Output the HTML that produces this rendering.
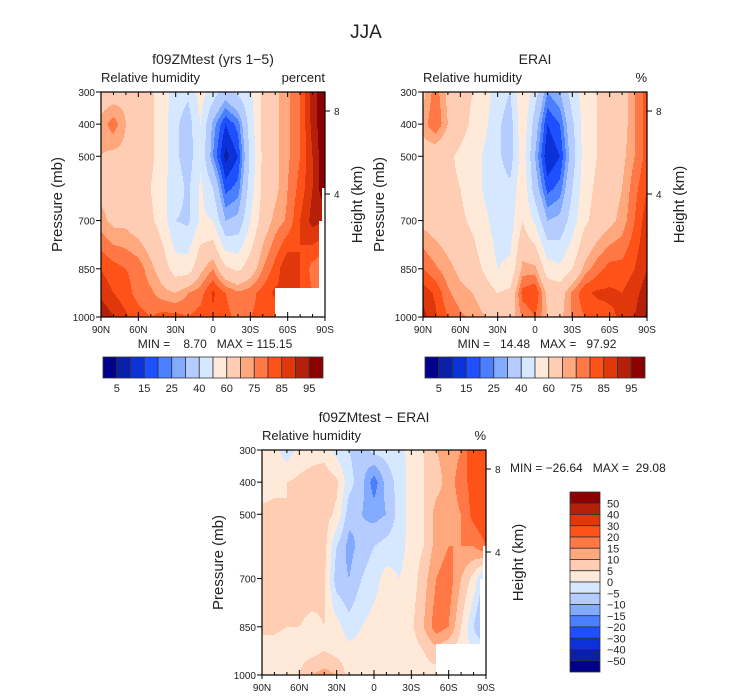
<!DOCTYPE html>
<html><head><meta charset="utf-8">
<style>
body{margin:0;background:#fff;}
svg{display:block;font-family:"Liberation Sans",sans-serif;}
text{fill:#222;}
</style></head>
<body>
<svg id="svg" width="733" height="699" xmlns="http://www.w3.org/2000/svg">
<text x="366" y="38" font-size="19" text-anchor="middle">JJA</text>
</svg>
<script>
// ---- data ----
const lats = [90,80,70,60,50,40,30,20,10,0,-10,-20,-30,-40,-50,-60,-70,-80,-90];
const levels = [300,400,500,600,700,850,925,1000];
const rhModel = [
 [65,65,68,65,62,55,45,42,55,45,35,42,48,62,68,74,80,92,100],
 [72,78,70,66,62,55,42,35,50,28,15,22,45,62,68,74,80,92,100],
 [70,68,68,66,62,55,42,35,48,25,8,15,42,62,68,74,80,90,100],
 [68,66,66,64,60,52,45,38,52,40,18,22,45,62,68,75,82,90,100],
 [72,68,68,65,62,55,40,38,52,50,30,32,50,65,72,76,85,92,90],
 [85,82,80,78,72,65,55,55,68,75,62,58,65,75,82,90,85,78,75],
 [88,85,82,78,76,72,70,75,78,86,80,76,78,82,86,85,85,80,80],
 [95,90,86,82,80,82,82,80,82,84,82,78,80,82,82,80,80,80,80]
];
const rhObs = [
 [68,78,68,64,60,55,45,40,60,45,25,30,45,55,60,62,66,75,82],
 [72,80,70,64,58,52,42,35,58,35,15,20,38,55,60,64,66,75,82],
 [66,64,62,58,55,48,42,35,56,30,10,15,35,55,60,64,68,75,82],
 [66,64,62,60,55,48,45,42,58,35,18,22,40,56,62,66,70,78,85],
 [68,66,64,62,58,52,45,45,60,48,30,32,45,58,64,68,72,80,88],
 [80,76,72,68,65,58,50,52,72,72,55,52,60,72,78,82,82,85,90],
 [88,84,76,72,70,65,60,62,82,85,68,66,76,84,86,86,85,88,93],
 [92,86,80,76,74,70,65,66,76,80,70,68,76,80,82,84,86,90,96]
];
const rhDiff = [
 [2,2,-3,2,3,3,-2,-5,-8,-3,-3,-2,2,5,10,12,15,25,25],
 [3,4,5,6,7,8,6,-3,-8,-18,-8,-3,2,5,8,12,18,22,25],
 [6,6,5,7,7,7,4,-8,-10,-12,-10,-3,2,5,12,12,15,22,25],
 [6,6,5,7,7,7,-5,-12,-8,-5,-3,-2,2,5,12,15,15,15,20],
 [6,6,5,7,7,6,-8,-10,-5,-2,2,0,2,8,15,18,10,3,-8],
 [6,6,5,5,4,5,2,-3,0,2,3,3,4,10,18,15,5,-5,-15],
 [3,3,2,3,3,5,3,2,2,2,3,3,2,5,8,5,2,0,0],
 [2,3,3,5,10,12,10,3,2,3,3,5,3,3,3,3,0,0,0]
];
const rhLevels = [5,10,15,20,25,30,40,50,60,70,75,80,85,90,95];
const rhLabels = ["5","15","25","40","60","75","85","95"];
const diffLevels = [-50,-40,-30,-20,-15,-10,-5,0,5,10,15,20,30,40,50];
const diffLabels = ["50","40","30","20","15","10","5","0","\u22125","\u221210","\u221215","\u221220","\u221230","\u221240","\u221250"];
const xTickLabels = ["90N","60N","30N","0","30S","60S","90S"];
const xTickLats = [90,60,30,0,-30,-60,-90];
const yTickLabels = ["300","400","500","700","850","1000"];
const yTickP = [300,400,500,700,850,1000];
const colors = ['#00008b','#0a20a8','#0a32d8','#1e50ff','#4a7fff','#82aaff','#b4ccff','#d6e8ff','#ffe9d8','#ffcdb4','#ffa87e','#ff7845','#ff5218','#e0380a','#b5200a','#8b0000'];
// ---- render ----
const NS="http://www.w3.org/2000/svg";
const svg=document.getElementById('svg');
function mk(tag,attrs,parent){const e=document.createElementNS(NS,tag);for(const k in attrs)e.setAttribute(k,attrs[k]);(parent||svg).appendChild(e);return e;}
function txt(s,x,y,size,anchor,parent){const t=mk('text',{x:x,y:y,'font-size':size,'text-anchor':anchor||'start'},parent);t.textContent=s;return t;}
function sample(grid,lat,p){
  const step=(lats[0]-lats[lats.length-1])/(lats.length-1);
  let fi=(lats[0]-lat)/step; let i0=Math.min(lats.length-2,Math.floor(fi)); let fx=fi-i0;
  let j0=0; while(j0<levels.length-2 && p>levels[j0+1]) j0++;
  let fy=(p-levels[j0])/(levels[j0+1]-levels[j0]); fy=Math.max(0,Math.min(1,fy));
  const a=grid[j0][i0],b=grid[j0][i0+1],c=grid[j0+1][i0],d=grid[j0+1][i0+1];
  return (a*(1-fx)+b*fx)*(1-fy)+(c*(1-fx)+d*fx)*fy;
}
function bin(v,lv){let k=0;while(k<lv.length&&v>=lv[k])k++;return k;}
function masked(lat,p,maskP){ if(!maskP) return false; return (lat<-50&&p>maskP)||(lat<-85&&p>700)||(lat<-87.5&&p>600); }
function panel(opt){
  const g=mk('g',{},svg);
  
  
  const X=opt.x,Y=opt.y,W=224,H=225;
  const xs=lat=>X+(90-lat)/180*W;
  const ys=p=>Y+(p-300)/700*H;
  const cg=mk('g',{'shape-rendering':'crispEdges'},g);
  
  
  for(let r=0;r<H;r++){
    const p=300+(r+0.5)/H*700;
    let start=0,cur=null;
    for(let c=0;c<=W;c++){
      let col=null;
      if(c<W){const lat=90-(c+0.5)/W*180;
        col=masked(lat,p,opt.maskP)?'#fff':colors[bin(sample(opt.grid,lat,p),opt.lv)];}
      if(col!==cur){
        if(cur!==null){const rc=mk('rect',{x:X+start,y:Y+r,width:c-start,height:1,fill:cur},cg);
          
          }
        cur=col;start=c;}
    }
  }
  const fr=mk('rect',{x:X,y:Y,width:W,height:H,fill:'none',stroke:'#000','stroke-width':1.2},g);
  
  
  for(let lat=90;lat>=-90;lat-=10){
    const major=lat%30===0; const x=xs(lat); const L=major?5:3;
    mk('line',{x1:x,y1:Y+H,x2:x,y2:Y+H-L,stroke:'#000'},g);
    mk('line',{x1:x,y1:Y,x2:x,y2:Y+L,stroke:'#000'},g);
    if(major){mk('line',{x1:x,y1:Y+H,x2:x,y2:Y+H+4,stroke:'#000'},g);}
  }
  xTickLabels.forEach((s,i)=>{const t=txt(s,xs(xTickLats[i]),Y+H+16,10,'middle',g);
    
    });
  yTickP.forEach((p,i)=>{mk('line',{x1:X-5,y1:ys(p),x2:X,y2:ys(p),stroke:'#000'},g);
    const t=txt(yTickLabels[i],X-6,ys(p)+4,10,'end',g);
    
    });
  [[8,19],[4,102]].forEach(([km,dy])=>{mk('line',{x1:X+W,y1:Y+dy,x2:X+W+5,y2:Y+dy,stroke:'#000'},g);
    const t=txt(String(km),X+W+9,Y+dy+4,10,'start',g);
    
    });
  let t=txt('Pressure (mb)',0,0,15,'middle',g);t.setAttribute('transform',`translate(${X-39},${Y+H/2}) rotate(-90)`);t.setAttribute('fill','#444');
  
  
  t=txt('Height (km)',0,0,15,'middle',g);t.setAttribute('transform',`translate(${X+W+37},${Y+H/2}) rotate(-90)`);
  
  
  t=txt(opt.title,X+W/2,Y-28,14,'middle',g);
  
  
  t=txt('Relative humidity',X,Y-10,13,'start',g);
  
  
  t=txt(opt.units,X+W,Y-10,13,'end',g);
  
  
  t=txt(opt.minmax,opt.mmx,opt.mmy,12,opt.mma,g);t.setAttribute('xml:space','preserve');t.style.whiteSpace='pre';
  
  
}
panel({name:'panel-model',x:101,y:92,grid:rhModel,lv:rhLevels,maskP:910,title:'f09ZMtest (yrs 1\u22125)',units:'percent',minmax:'MIN =    8.70   MAX = 115.15',mmx:215,mmy:348,mma:'middle'});
panel({name:'panel-erai',x:423,y:92,grid:rhObs,lv:rhLevels,maskP:null,title:'ERAI',units:'%',minmax:'MIN =   14.48   MAX =   97.92',mmx:537,mmy:348,mma:'middle'});
panel({name:'panel-diff',x:262,y:450,grid:rhDiff,lv:diffLevels,maskP:905,title:'f09ZMtest \u2212 ERAI',units:'%',minmax:'MIN = \u221226.64   MAX =  29.08',mmx:510,mmy:472,mma:'start'});
function hbar(x,name){
  const g=mk('g',{},svg);
  
  
  const w=220/16;
  colors.forEach((c,i)=>{const r=mk('rect',{x:x+i*w,y:357,width:w,height:21,fill:c,stroke:'#333','stroke-width':0.8},g);
    
    });
  rhLabels.forEach((s,i)=>{const t=txt(s,x+(1+2*i)*w,392,11,'middle',g);
    
    });
}
hbar(103,'colorbar-model');
hbar(425,'colorbar-erai');
(function(){
  const g=mk('g',{},svg);
  
  
  const h=180/16;
  colors.slice().reverse().forEach((c,i)=>{const r=mk('rect',{x:570,y:492+i*h,width:30,height:h,fill:c,stroke:'#333','stroke-width':0.8},g);
    
    });
  diffLabels.forEach((s,i)=>{const t=txt(s,607,492+(i+1)*h+4,11,'start',g);
    
    });
})();
</script>
</body></html>
